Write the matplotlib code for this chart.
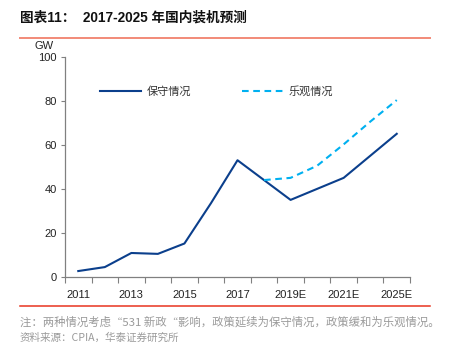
import matplotlib
matplotlib.use("Agg")
import matplotlib.pyplot as plt
from matplotlib.lines import Line2D

plt.rcParams['font.family'] = ['Liberation Sans', 'Noto Sans CJK SC', 'DejaVu Sans']

categories = ['2011', '2012', '2013', '2014', '2015', '2016', '2017', '2018',
              '2019E', '2020E', '2021E', '2023E', '2025E']
tick_labels = ['2011', '', '2013', '', '2015', '', '2017', '', '2019E', '', '2021E', '', '2025E']
conservative = [2.7, 4.5, 10.9, 10.5, 15.2, 33.5, 53, 44, 35, 40, 45, 55, 65]
optimistic_idx = [7, 8, 9, 10, 11, 12]
optimistic = [44, 45, 50.5, 60.2, 70.5, 80.3]
series_names = ['保守情况', '乐观情况']
y_ticks = [0, 20, 40, 60, 80, 100]

W, H = 449, 344
fig = plt.figure(figsize=(W / 100, H / 100), dpi=100)
ax = fig.add_axes([65 / W, 1 - 277 / H, (410 - 65) / W, (277 - 56.7) / H])

x = list(range(len(categories)))
ax.plot(x, conservative, color='#0B3F8C', lw=1.5, label=series_names[0])
ax.plot(optimistic_idx, optimistic, color='#00B0F0', lw=1.5, linestyle=(0, (3.2, 2.2)),
        label=series_names[1])

ax.set_xlim(-0.5, len(categories) - 0.5)
ax.set_ylim(0, 100)
ax.set_yticks(y_ticks)
ax.set_yticklabels([str(v) for v in y_ticks], fontsize=8, color='#222222')
ax.set_xticks(x)
ax.set_xticklabels(tick_labels, fontsize=8, color='#222222')
ax.set_xticks([i + 0.5 for i in range(-1, len(categories))], minor=True)
ax.tick_params(axis='x', which='major', length=0, pad=9)
ax.tick_params(axis='x', which='minor', length=4, width=0.8, color='#808080', direction='out')
ax.tick_params(axis='y', length=3, width=0.8, color='#808080', direction='out', pad=3)
for s in ['top', 'right']:
    ax.spines[s].set_visible(False)
for s in ['left', 'bottom']:
    ax.spines[s].set_color('#808080')
    ax.spines[s].set_linewidth(0.9)

leg = fig.legend(loc='center left', bbox_to_anchor=(100 / W, 1 - 91 / H), ncol=2, frameon=False,
                 fontsize=8, handlelength=3.7, handletextpad=0.5, columnspacing=4.6,
                 borderpad=0, borderaxespad=0)
for t in leg.get_texts():
    t.set_color('#333333')
    t.set_family(['Noto Sans CJK SC', 'DejaVu Sans'])

fig.text(44 / W, 1 - 46 / H, 'GW', ha='center', va='center', fontsize=8, color='#222222')

fig.text(20 / W, 1 - 18 / H, '图表11：  2017-2025 年国内装机预测', ha='left', va='center',
         fontsize=9.8, fontweight='bold', color='#111111')
fig.add_artist(Line2D([20 / W, 430 / W], [1 - 38 / H, 1 - 38 / H], color='#F28A78', lw=1.4))
fig.add_artist(Line2D([20 / W, 430 / W], [1 - 306 / H, 1 - 306 / H], color='#E8341F', lw=1.1))

fig.text(20 / W, 1 - 322 / H, '注：两种情况考虑“531 新政“影响，政策延续为保守情况，政策缓和为乐观情况。',
         ha='left', va='center', fontsize=8.2, color='#9A9A9A',
         family=['Noto Sans CJK SC', 'DejaVu Sans'])
fig.text(20 / W, 1 - 333 / H, '资料来源：CPIA，华泰证券研究所', ha='left', va='top',
         fontsize=7.6, color='#9A9A9A', family=['Noto Sans CJK SC', 'DejaVu Sans'])

fig.savefig('out.png', dpi=100)
